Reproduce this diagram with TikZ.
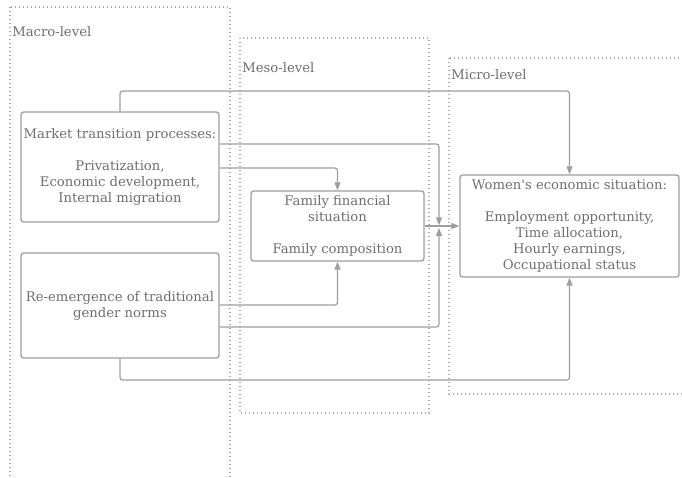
\documentclass[tikz,border=0pt]{standalone}
\usepackage{fontspec}
\setmainfont{DejaVu Serif}
\usetikzlibrary{arrows.meta,positioning}
\definecolor{vtext}{HTML}{6E6E6E}
\definecolor{vline}{HTML}{9E9E9E}
\definecolor{vdot}{HTML}{ABABAB}
\tikzset{
  box/.style={draw=vline,rounded corners=2pt,line width=1pt,align=center,text=vtext,font=\fontsize{9.9}{12}\selectfont,inner sep=2pt},
  grp/.style={draw=vdot,line width=0.9pt,dash pattern=on 0.9pt off 2.1pt},
  lbl/.style={text=vtext,font=\fontsize{9.9}{12}\selectfont,anchor=west,inner sep=0pt},
  arr/.style={-{Triangle[length=6pt,width=4.5pt]},line width=0.9pt,draw=vline,rounded corners=2pt},
}
\begin{document}
\begin{tikzpicture}[x=0.75pt,y=-0.75pt]
  \useasboundingbox (0,0) rectangle (682,478);
  % levels
  \draw[grp] (10,7) rectangle (230,490);
  \draw[grp] (240,38) rectangle (429,413);
  \draw[grp] (449,58) rectangle (690,394);
  \node[lbl] (macro) at (12,32) {Macro-level};
  \node[lbl] (meso) at (242,68) {Meso-level};
  \node[lbl] (micro) at (451,75) {Micro-level};
  % boxes
  \node[box,minimum width=148.5pt,minimum height=82.5pt] (m) at (120,167) {Market transition processes:\\[12pt] Privatization,\\ Economic development,\\ Internal migration};
  \node[box,minimum width=148.5pt,minimum height=78.75pt] (r) at (120,305.5) {Re-emergence of traditional\\ gender norms};
  \node[box,minimum width=129.75pt,minimum height=52.5pt] (f) at (337.5,226) {Family financial\\ situation\\[12pt] Family composition};
  \node[box,minimum width=164.25pt,minimum height=76.5pt] (w) at (569.5,226) {Women\textquotesingle s economic situation:\\[12pt] Employment opportunity,\\ Time allocation,\\ Hourly earnings,\\ Occupational status};
  \coordinate (j) at (439,226);
  % links
  \draw[arr] (m.north) -- (m.north |- 0,91) -| (w.north);
  \draw[arr] (r.south) -- (r.south |- 0,380) -| (w.south);
  \draw[arr] (m.east |- 0,168) -| (f.north);
  \draw[arr] (r.east |- 0,305) -| (f.south);
  \draw[arr,shorten >=0.5pt] (m.east |- 0,144) -| (j);
  \draw[arr,shorten >=1.5pt] (r.east |- 0,327) -| (j);
  \draw[arr] (f.east) -- (w.west);
\end{tikzpicture}
\end{document}
